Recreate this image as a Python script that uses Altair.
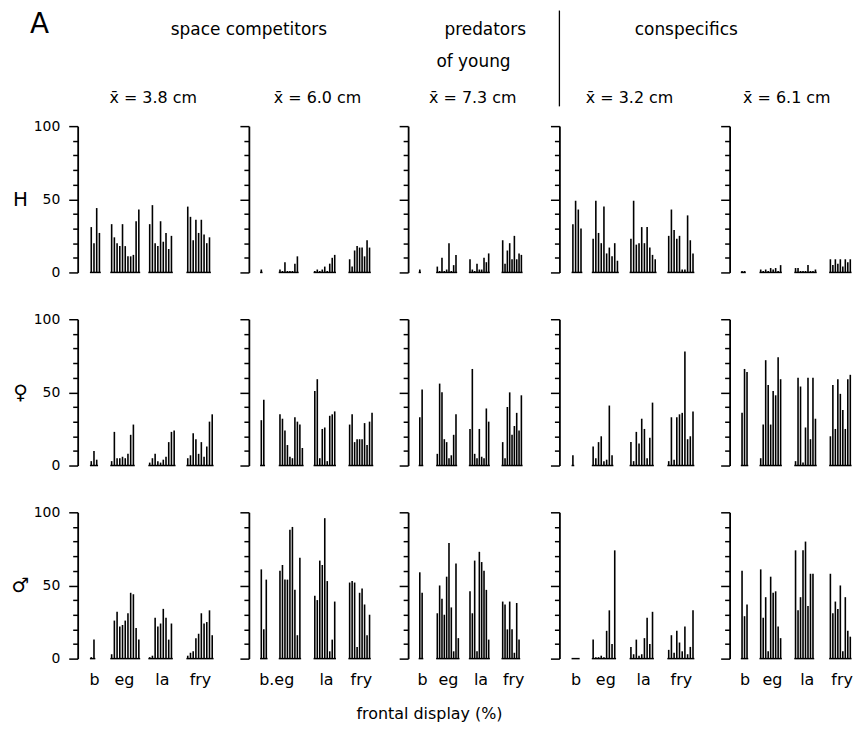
import altair as alt
import pandas as pd

GROUPS = ["b", "eg", "la", "fry"]
ROW_SYMBOLS = ["H", "\u2640", "\u2642"]
MEAN_SIZES = ["x\u0304 = 3.8 cm", "x\u0304 = 6.0 cm", "x\u0304 = 7.3 cm", "x\u0304 = 3.2 cm", "x\u0304 = 6.1 cm"]
SECTIONS = ["space competitors", "predators", "of young", "conspecifics"]
X_TITLE = "frontal display (%)"
PANEL_TAG = "A"
BOTTOM_LABELS = [["b", "eg", "la", "fry"], ["b.eg", "la", "fry"], ["b", "eg", "la", "fry"],
                 ["b", "eg", "la", "fry"], ["b", "eg", "la", "fry"]]

# frontal display (%) per stimulus, row H
H_1 = dict(b=[31, 20, 44, 27], eg=[33, 24, 20, 18, 33, 18, 11, 11, 12, 35, 43],
           la=[33, 46, 20, 18, 35, 21, 27, 16, 25], fry=[45, 38, 22, 36, 27, 36, 26, 20, 24])
H_2 = dict(b=[2], eg=[2, 1, 7, 1, 1, 1, 6, 11], la=[1, 2, 1, 2, 4, 1, 6, 10, 12],
           fry=[9, 4, 15, 18, 17, 17, 11, 22, 17])
H_3 = dict(b=[2], eg=[4, 1, 10, 1, 2, 20, 1, 5, 12], la=[9, 2, 1, 6, 2, 2, 10, 7, 13],
           fry=[22, 6, 15, 20, 9, 25, 9, 13, 12])
H_4 = dict(b=[33, 49, 43, 30], eg=[23, 49, 27, 20, 45, 13, 17, 11, 20, 8],
           la=[23, 49, 19, 20, 31, 20, 31, 17, 12, 9], fry=[25, 43, 29, 23, 25, 2, 2, 39, 22, 13])
H_5 = dict(b=[1, 1], eg=[2, 1, 2, 1, 3, 2, 3, 1, 5], la=[3, 3, 1, 1, 1, 5, 1, 1, 2],
           fry=[9, 5, 9, 6, 9, 4, 9, 7, 9])
# row female
F_1 = dict(b=[3, 10, 4], eg=[3, 23, 5, 5, 6, 5, 8, 21, 28], la=[2, 5, 8, 3, 2, 4, 6, 16, 23, 24],
           fry=[5, 7, 22, 18, 8, 16, 6, 13, 30, 35])
F_2 = dict(b=[31, 45], eg=[35, 32, 24, 14, 6, 5, 33, 30, 28, 12], la=[51, 59, 5, 25, 26, 3, 34, 35, 37],
           fry=[28, 35, 16, 18, 18, 18, 29, 14, 30, 36])
F_3 = dict(b=[33, 52], eg=[8, 56, 50, 18, 16, 5, 7, 21, 35], la=[25, 66, 8, 5, 25, 6, 5, 39, 30],
           fry=[16, 5, 40, 50, 21, 27, 36, 24, 48])
F_4 = dict(b=[7], eg=[13, 5, 16, 20, 3, 4, 41, 7], la=[16, 3, 23, 15, 32, 25, 5, 19, 43],
           fry=[3, 33, 4, 33, 35, 36, 78, 18, 20, 37])
F_5 = dict(b=[36, 66, 64], eg=[5, 28, 72, 55, 28, 51, 48, 74, 59], la=[3, 60, 54, 2, 26, 60, 18, 60, 32],
           fry=[20, 55, 25, 59, 49, 38, 25, 59, 62])
# row male
M_1 = dict(b=[1, 13], eg=[3, 26, 32, 22, 23, 26, 31, 45, 44, 21, 13], la=[1, 2, 28, 22, 24, 34, 28, 13, 24],
           fry=[2, 4, 5, 14, 17, 31, 24, 25, 33, 16])
M_2 = dict(b=[61, 20, 54], eg=[60, 64, 54, 54, 88, 90, 47, 16, 69], la=[43, 40, 67, 64, 96, 53, 5, 13, 39],
           fry=[52, 53, 52, 8, 45, 48, 37, 16, 30])
M_3 = dict(b=[59, 45], eg=[31, 50, 41, 30, 56, 79, 35, 5, 65, 14], la=[46, 31, 67, 5, 73, 66, 60, 47, 13],
           fry=[39, 37, 20, 39, 20, 4, 38, 13])
M_4 = dict(b=[0, 0, 0], eg=[13, 1, 1, 2, 1, 19, 33, 10, 74], la=[8, 3, 13, 2, 3, 14, 28, 10, 32],
           fry=[6, 16, 4, 19, 11, 5, 22, 3, 8, 33])
M_5 = dict(b=[60, 29, 37], eg=[61, 28, 42, 5, 56, 45, 46, 22, 14], la=[74, 33, 42, 74, 80, 36, 58, 58],
           fry=[58, 31, 39, 34, 50, 5, 42, 19, 15])

PANELS = [[H_1, H_2, H_3, H_4, H_5], [F_1, F_2, F_3, F_4, F_5], [M_1, M_2, M_3, M_4, M_5]]

# ---- layout (slot units within a panel) ----
SLOT_START = {"b": 5, "eg": 12.5, "la": 26.5, "fry": 40.5}
LABEL_POS = [[6, 17, 31, 45], [11, 31, 45], [6, 17, 31, 45], [6, 17, 31, 45], [6, 17, 31, 45]]
MEAN_POS = [27.8, 27.6, 27.7, 26, 23]
COL_WIDTHS = [142, 130, 122, 141, 130]
PANEL_HEIGHT = 147
X_DOMAIN = [0, 52]
FONT = "DejaVu Sans"


def make_panel(r, c):
    d = PANELS[r][c]
    bar_rows, base_rows = [], []
    for g in GROUPS:
        vals = d[g]
        for i, v in enumerate(vals):
            bar_rows.append({"group": g, "pos": SLOT_START[g] + i, "value": v})
        base_rows.append({"group": g, "start": SLOT_START[g] - 0.5,
                          "end": SLOT_START[g] + len(vals) - 0.5})
    bars_df = pd.DataFrame(bar_rows)
    base_df = pd.DataFrame(base_rows)

    xs = alt.Scale(domain=X_DOMAIN, nice=False, zero=False)
    ys = alt.Scale(domain=[0, 100], nice=False)

    if r == 2:
        pos, labs = LABEL_POS[c], BOTTOM_LABELS[c]
        expr = " : ".join(f"datum.value == {p} ? '{t}'" for p, t in zip(pos, labs)) + " : ''"
        xaxis = alt.Axis(values=pos, labelExpr=expr, domain=False, ticks=False, tickSize=0,
                         grid=False, labelFontSize=16, labelPadding=13, labelFont=FONT,
                         labelColor="black", labelOverlap=False, labelFlush=False,
                         title=X_TITLE if c == 2 else "", titleX=21, titleY=55,
                         titleAlign="center", titleBaseline="middle", titleFontSize=16,
                         titleFont=FONT, titleFontWeight="normal", titleColor="black")
    else:
        xaxis = None

    yaxis_kwargs = dict(
        values=list(range(0, 101, 10)),
        tickSize={"condition": {"test": "datum.value % 50 === 0", "value": 9}, "value": 5},
        tickColor="black", tickWidth=1.5, domainColor="black", domainWidth=1.8, grid=False,
        labelOverlap=False, labelFlush=False,
    )
    if c == 0:
        yaxis = alt.Axis(labelExpr="datum.value % 50 === 0 ? datum.label : ''",
                         labelFont=FONT, labelFontSize=14, labelPadding=9, labelColor="black",
                         title=ROW_SYMBOLS[r], titleAngle=0, titleX=-58, titleY=PANEL_HEIGHT / 2,
                         titleAlign="center", titleBaseline="middle", titleFontSize=20,
                         titleFont=FONT, titleFontWeight="normal", titleColor="black",
                         **yaxis_kwargs)
    else:
        yaxis = alt.Axis(labels=False, title="", **yaxis_kwargs)

    bars = alt.Chart(bars_df).mark_rule(color="black", strokeWidth=1.6).encode(
        x=alt.X("pos:Q", scale=xs, axis=xaxis),
        y=alt.Y("value:Q", scale=ys, axis=yaxis),
        y2=alt.datum(0),
    )
    base = alt.Chart(base_df).mark_rule(color="black", strokeWidth=1.5).encode(
        x=alt.X("start:Q", scale=xs, axis=xaxis),
        x2="end:Q",
        y=alt.YDatum(0, scale=ys, axis=yaxis),
    )
    layers = [bars, base]

    if r == 0:
        one = pd.DataFrame({"k": [0]})
        txt = dict(font=FONT, fontSize=17, color="black", align="center", baseline="middle")

        def put(text, xv, yv, **kw):
            style = dict(txt)
            style.update(kw)
            return alt.Chart(one).mark_text(text=text, **style).encode(
                x=alt.XDatum(xv, scale=xs, axis=xaxis),
                y=alt.YDatum(yv, scale=ys, axis=yaxis))

        layers.append(put(MEAN_SIZES[c], MEAN_POS[c], 119, fontSize=16))
        if c == 0:
            layers.append(put(PANEL_TAG, -14, 169, fontSize=28))
            layers.append(put(SECTIONS[0], 63, 166))
        if c == 2:
            layers.append(put(SECTIONS[1], 33, 166))
            layers.append(put(SECTIONS[2], 28, 143.5))
        if c == 3:
            layers.append(put(SECTIONS[3], 47, 166))
            layers.append(alt.Chart(one).mark_rule(color="black", strokeWidth=1.3).encode(
                x=alt.XDatum(0, scale=xs, axis=xaxis),
                y=alt.YDatum(113.5, scale=ys, axis=yaxis),
                y2=alt.datum(179)))

    return alt.layer(*layers).properties(width=COL_WIDTHS[c], height=PANEL_HEIGHT)


panels = [make_panel(r, c) for r in range(3) for c in range(5)]
chart = alt.concat(*panels, columns=5, spacing={"row": 47, "column": 30}, bounds="flush").properties(
    padding={"left": 3, "top": 0, "right": 0, "bottom": 0}
).configure_view(stroke=None)

chart.save("out.html", embed_options={"renderer": "svg", "actions": False})
